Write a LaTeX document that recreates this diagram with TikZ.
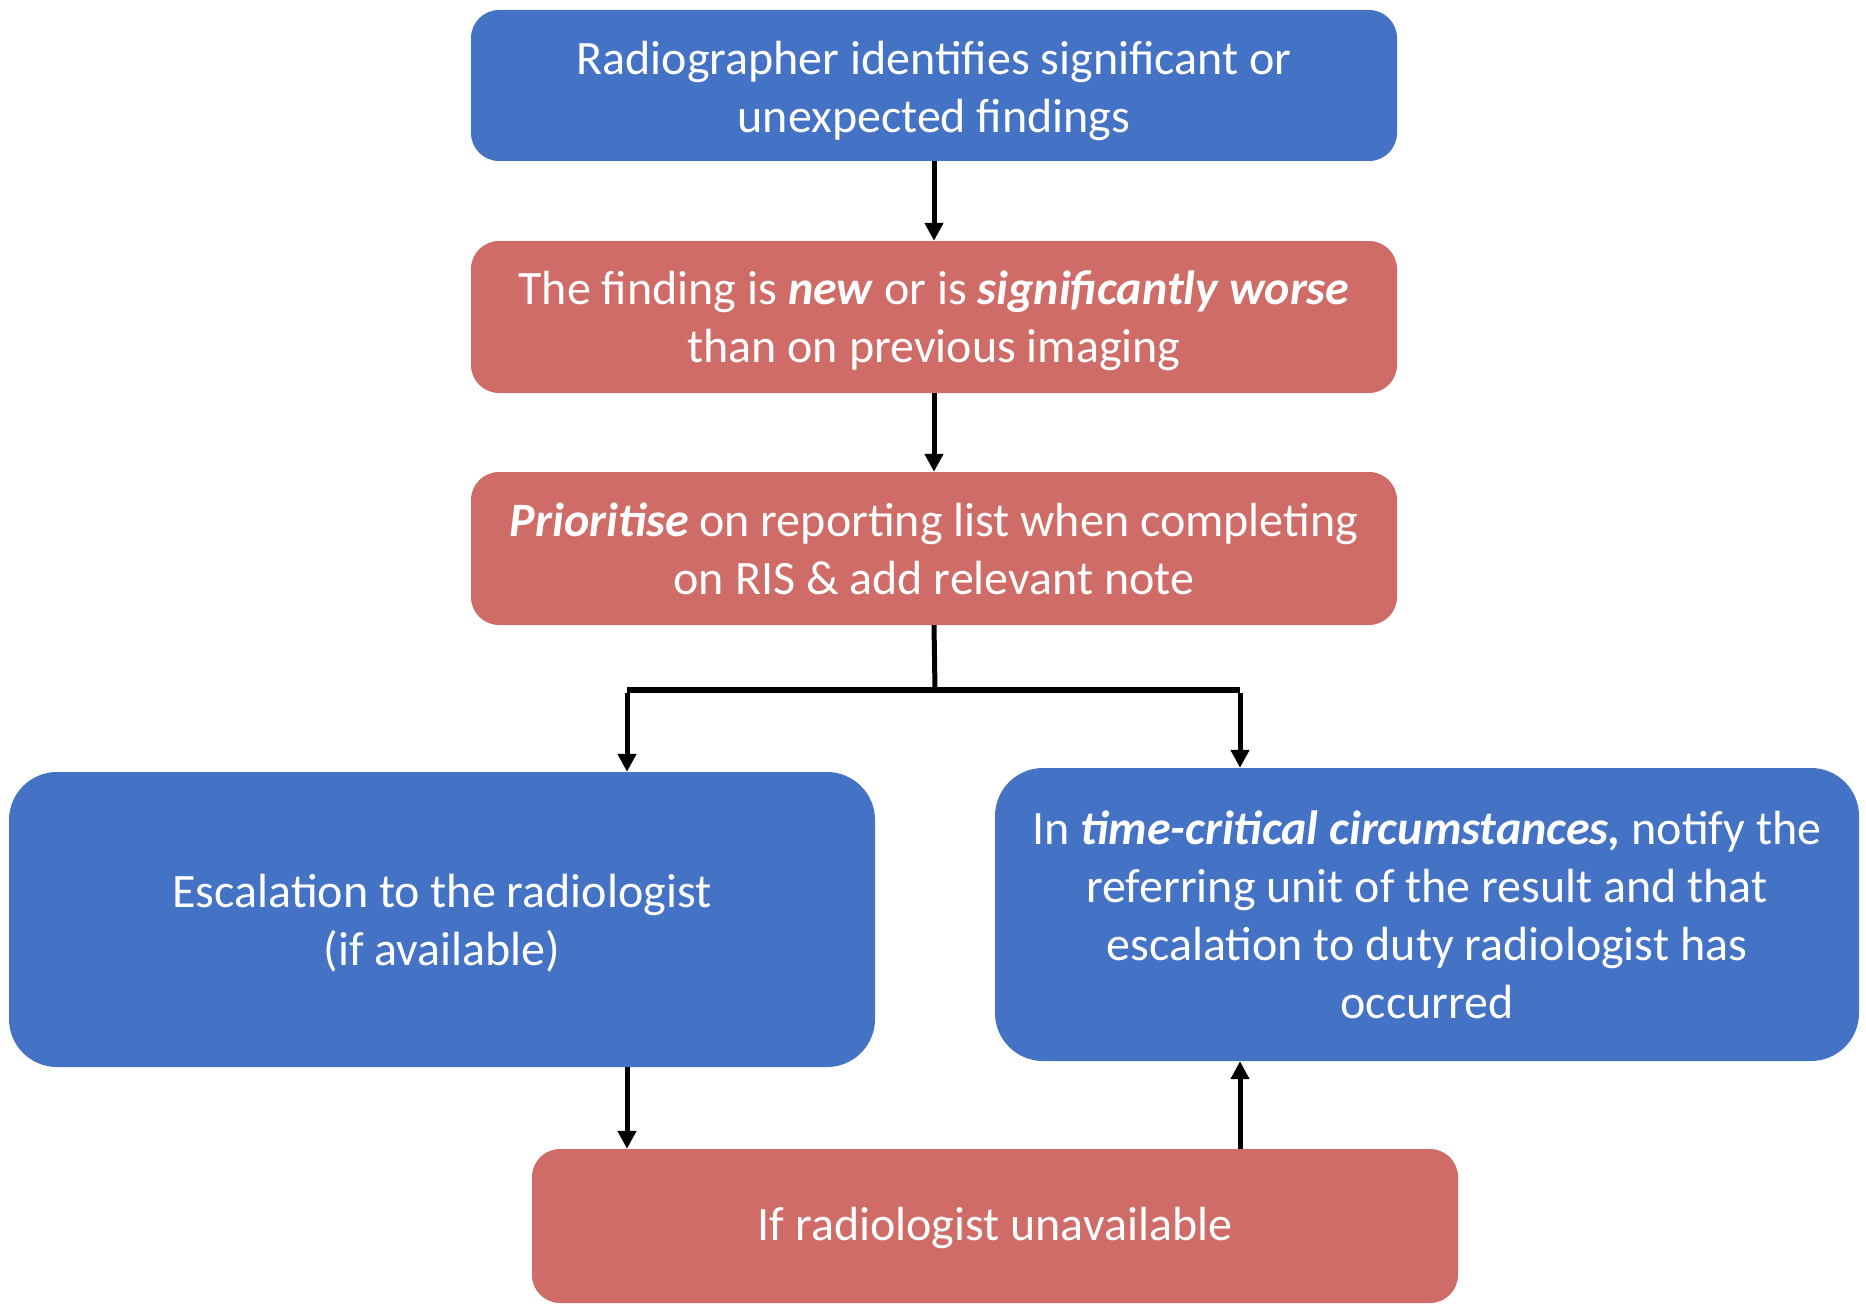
\documentclass[tikz,border=0pt]{standalone}
\usepackage{fontspec}
\setmainfont{Carlito}
\usetikzlibrary{arrows.meta}
\definecolor{boxblue}{RGB}{68,114,196}
\definecolor{boxred}{RGB}{208,108,103}
\newcommand{\bi}[1]{\textbf{\textit{#1}}}
\begin{document}
\begin{tikzpicture}[x=1pt,y=-1pt,
  box/.style={rectangle, rounded corners=28pt, inner sep=0pt},
  bluebox/.style={box, fill=boxblue},
  redbox/.style={box, fill=boxred},
  bigcorner/.style={rounded corners=48pt},
  txt/.style={inner sep=0pt, text=white, align=center, font=\fontsize{48}{58}\selectfont},
  conn/.style={line width=5pt, -{Triangle[width=18pt,length=18pt]}},
  plainline/.style={line width=5pt},
  barline/.style={line width=6.5pt}]
\useasboundingbox (0,0) rectangle (1866,1311);
\node[bluebox, minimum width=926pt, minimum height=151pt] (b1) at (934,85.5) {};
\node[redbox, minimum width=926pt, minimum height=152pt] (b2) at (934,317) {};
\node[redbox, minimum width=926pt, minimum height=153pt] (b3) at (934,548.5) {};
\node[bluebox, bigcorner, minimum width=866pt, minimum height=295pt] (b4) at (442,919.5) {};
\node[bluebox, bigcorner, minimum width=864pt, minimum height=293pt] (b5) at (1427,914.5) {};
\node[redbox, minimum width=926pt, minimum height=154pt] (b6) at (995,1226) {};
\node[txt] (t1) at ([yshift=-5pt]b1.center)
  {Radiographer identifies significant or\\unexpected findings};
\node[txt] (t2) at ([yshift=-4pt]b2.center)
  {The finding is \bi{new} or is \bi{significantly worse}\\than on previous imaging};
\node[txt] (t3) at (b3.center)
  {\bi{Prioritise} on reporting list when completing\\on RIS \& add relevant note};
\node[txt] (t4) at ([yshift=-4pt]b4.center)
  {Escalation to the radiologist\\(if available)};
\node[txt] (t5) at (b5.center)
  {In \bi{time-critical circumstances,} notify the\\referring unit of the result and that\\escalation to duty radiologist has\\occurred};
\node[txt] (t6) at ([yshift=-2pt]b6.center)
  {If radiologist unavailable};
\coordinate (j) at (935,690);
\coordinate (jl) at (627,690);
\coordinate (jr) at (1240,690);
\draw[conn] (b1.south) -- (b2.north);
\draw[conn] (b2.south) -- (b3.north);
\draw[plainline] (b3.south) -- (j);
\draw[barline] (jl) -- (jr);
\draw[conn] ([yshift=-3pt]jl) -- (jl |- b4.north);
\draw[conn] ([yshift=-3pt]jr) -- (jr |- b5.north);
\draw[conn] (b4.south -| jl) -- (b6.north -| jl);
\draw[conn] (b6.north -| jr) -- (b5.south -| jr);
\end{tikzpicture}
\end{document}
